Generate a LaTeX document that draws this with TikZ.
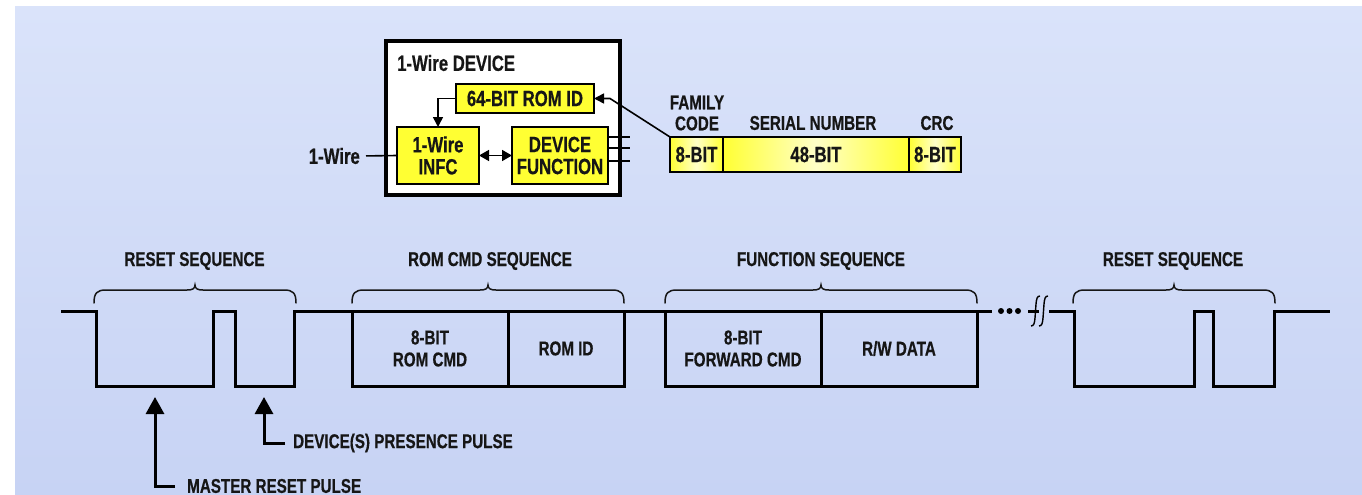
\documentclass[tikz,border=0pt]{standalone}
\usepackage{fontspec}
\setmainfont{Liberation Sans}[FakeStretch=0.76, BoldFeatures={FakeBold=0.5}]
\usetikzlibrary{arrows.meta}
\definecolor{bgtop}{RGB}{218,227,250}
\definecolor{bgbot}{RGB}{199,211,244}
\definecolor{ylw}{RGB}{255,255,51}
\definecolor{ylwl}{RGB}{255,255,200}
\definecolor{txt}{RGB}{22,22,22}
\newcommand\mybrace[3]{%
  \draw[bracestyle] (#1,303) .. controls (#1,293) and (#1+3,290) .. (#1+12,290)
    -- (#2-8,290) .. controls (#2-3,290) and (#2,289) .. (#2,285)
    .. controls (#2,289) and (#2+3,290) .. (#2+8,290)
    -- (#3-12,290) .. controls (#3-3,290) and (#3,293) .. (#3,303);}
\newcommand\mybreak[1]{%
  \draw[line width=1.4pt] (#1,326) .. controls (#1+3,326) and (#1+3.5,323) .. (#1+4,318)
    -- (#1+5,304) .. controls (#1+5.5,299) and (#1+6,296) .. (#1+9,296);}
\begin{document}
\begin{tikzpicture}[x=1pt,y=-1pt,
  lbl/.style={font=\fontsize{20}{21}\selectfont\bfseries, text=txt, inner sep=0pt, align=center},
  dlbl/.style={font=\fontsize{22}{22}\selectfont\bfseries, text=txt, inner sep=0pt, align=center},
  ybox/.style={draw=black, line width=1.5pt, fill=ylw, inner sep=0pt, outer sep=0pt, rectangle},
  fieldbox/.style={draw=black, line width=1.5pt, inner sep=0pt, outer sep=0pt, rectangle,
     left color=ylw, right color=ylw, middle color=ylwl,
     font=\fontsize{22}{22}\selectfont\bfseries, text=txt},
  seqbox/.style={draw=black, line width=3pt, inner sep=0pt, outer sep=0pt, rectangle,
     font=\fontsize{20}{22}\selectfont\bfseries, text=txt, align=center},
  wave/.style={line width=3pt, line join=miter},
  bracestyle/.style={line width=1.5pt, draw=txt, line cap=round},
  thin/.style={line width=1.6pt},
  sarr/.style={line width=1.6pt, -{Triangle[width=10pt,length=10pt]}},
  darr/.style={line width=1.6pt, {Triangle[width=11pt,length=10pt]}-{Triangle[width=11pt,length=10pt]}},
  parr/.style={line width=3pt, -{Triangle[width=18pt,length=17pt]}}
]
\useasboundingbox (0,0) rectangle (1362,495);
\fill[white] (0,0) rectangle (1362,495);
\shade[top color=bgtop, bottom color=bgbot] (15,7) rectangle (1362,495);

% ---- 1-Wire device ----
\node[draw=black, line width=3.5pt, fill=white, rectangle, outer sep=0pt, minimum width=234pt, minimum height=154pt] (dev) at (503,118) {};
\node[dlbl, anchor=west] (devt) at (397,63) {1-Wire DEVICE};
\node[ybox, dlbl, minimum width=138pt, minimum height=29pt] (rom) at (525,98.5) {64-BIT ROM ID};
\node[ybox, dlbl, minimum width=82pt, minimum height=57pt] (infc) at (438,155.5) {1-Wire\\INFC};
\node[ybox, dlbl, minimum width=96pt, minimum height=57pt] (df) at (560,155.5) {DEVICE\\FUNCTION};
\draw[sarr] (rom.west) -| (infc.north);
\draw[darr] (infc.east) -- (df.west);
\node[dlbl, anchor=east] (wl) at (360,156) {1-Wire};
\draw[thin, shorten <=6pt] (wl.east) -- (infc.west);
\coordinate (o1) at (630,137);
\coordinate (o2) at (630,148);
\coordinate (o3) at (630,161);
\draw[thin] (df.east |- o1) -- (o1);
\draw[thin] (df.east |- o2) -- (o2);
\draw[thin] (df.east |- o3) -- (o3);

% ---- ROM ID fields ----
\node[fieldbox, minimum width=53pt, minimum height=35pt] (fam) at (696.5,154.5) {8-BIT};
\node[fieldbox, minimum width=186pt, minimum height=35pt] (ser) at (816,154.5) {48-BIT};
\node[fieldbox, minimum width=52pt, minimum height=35pt] (crc) at (935,154.5) {8-BIT};
\node[lbl] (famt) at (697,113) {FAMILY\\CODE};
\node[lbl] (sert) at (813,123) {SERIAL NUMBER};
\node[lbl] (crct) at (937,123) {CRC};
\coordinate (bend) at (610,98.5);
\draw[sarr] (fam.north west) -- (bend) -- (rom.east);

% ---- timing ----
\draw[wave] (61,311) -- (96,311) -- (96,386) -- (213,386) -- (213,311) -- (235,311)
  -- (235,386) -- (294,386) -- (294,311) -- (352,311);
\node[seqbox, minimum width=156pt, minimum height=75pt] (rcmd) at (430,348.5) {8-BIT\\ROM CMD};
\node[seqbox, minimum width=116pt, minimum height=75pt] (rid) at (566,348.5) {ROM ID};
\node[seqbox, minimum width=156pt, minimum height=75pt] (fcmd) at (743,348.5) {8-BIT\\FORWARD CMD};
\node[seqbox, minimum width=156pt, minimum height=75pt] (rw) at (899,348.5) {R/W DATA};
\draw[wave] (rid.north east) -- (fcmd.north west);
\coordinate (d0) at (992,311);
\draw[wave] (rw.north east) -- (d0);
\fill (1001,311) circle (3pt) (1009.5,311) circle (3pt) (1018,311) circle (3pt);
\draw[wave] (1028,311) -- (1039,311);
\mybreak{1031}
\mybreak{1039}
\draw[wave] (1049,311) -- (1074,311) -- (1074,386) -- (1194,386) -- (1194,311) -- (1213,311)
  -- (1213,386) -- (1274,386) -- (1274,311) -- (1330,311);

% braces and labels
\mybrace{94}{195}{296}
\mybrace{352}{488}{624}
\mybrace{665}{821}{977}
\mybrace{1073}{1174}{1275}
\node[lbl] (l1) at (194.5,261) {RESET SEQUENCE};
\node[lbl] (l2) at (490,261) {ROM CMD SEQUENCE};
\node[lbl] (l3) at (821,261) {FUNCTION SEQUENCE};
\node[lbl] (l4) at (1173,261) {RESET SEQUENCE};

% pulse arrows
\node[lbl, anchor=west] (mrl) at (187,486) {MASTER RESET PULSE};
\node[lbl, anchor=west] (dpl) at (293,443) {DEVICE(S) PRESENCE PULSE};
\coordinate (mrtip) at (155,397);
\coordinate (dptip) at (264,397);
\draw[parr] ([xshift=-12pt]mrl.west) -| (mrtip);
\draw[parr] ([xshift=-8pt]dpl.west) -| (dptip);
\end{tikzpicture}
\end{document}
